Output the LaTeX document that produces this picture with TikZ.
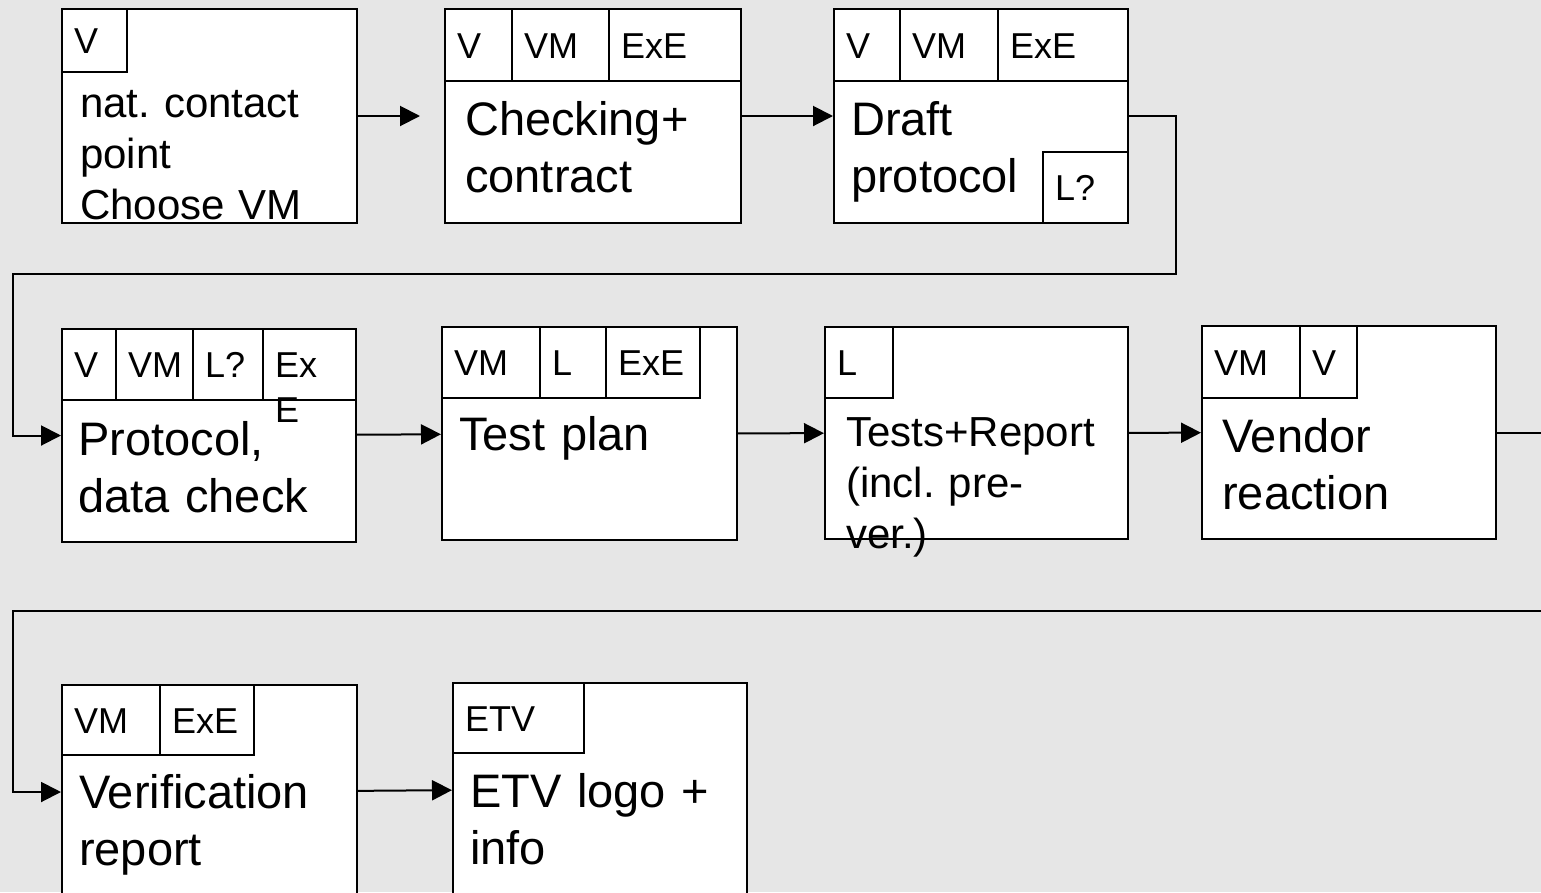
\documentclass[tikz,border=0pt]{standalone}
\usepackage{fontspec}
\setmainfont{Liberation Sans}
\usetikzlibrary{arrows.meta}

\definecolor{panelgray}{RGB}{230,230,230}

% text sizes (1 unit = 1pt)
\newcommand{\bigtext}{\fontsize{47}{57}\selectfont}
\newcommand{\midtext}{\fontsize{42}{51}\selectfont}
\newcommand{\roletext}{\fontsize{36}{45}\selectfont}
\frenchspacing

\tikzset{
    stage/.style 2 args={draw, fill=white, line width=2pt, anchor=north west,
        inner sep=0pt, minimum width=#1, minimum height=#2},
    role/.style={draw, fill=white, line width=2pt, anchor=north west,
        inner xsep=12pt, inner ysep=0pt, minimum height=71pt,
        minimum width=#1, text width=#1-24pt, text height=26pt, text depth=0pt,
        align=left, font=\roletext},
    note/.style={anchor=base west, inner sep=0pt, text width=300pt,
        align=left, font=\bigtext},
    flow/.style={->, line width=2pt},
}

\begin{document}
\begin{tikzpicture}[x=1pt, y=-1pt, >={Triangle[length=20pt,width=20pt]}]
    \useasboundingbox (0,0) rectangle (1541,892);
    \fill[panelgray] (0,0) rectangle (1541,892);
    \clip (0,0) rectangle (1541,892);

    % first row
    \node[stage={295pt}{214pt}] (contact) at (61,8) {};
    \node[role=65pt, minimum height=63pt] (contact-v) at (61,8) {V};
    \node[note, font=\midtext] (contact-t) at (80,117) {nat. contact\\point\\Choose VM};

    \node[stage={296pt}{214pt}] (checking) at (444,8) {};
    \node[role=67pt, minimum height=72pt] (checking-v) at (444,8) {V};
    \node[role=97pt, minimum height=72pt] (checking-vm) at (511,8) {VM};
    \node[role=132pt, minimum height=72pt] (checking-exe) at (608,8) {ExE};
    \node[note] (checking-t) at (465,135) {Checking+\\contract};

    \node[stage={294pt}{214pt}] (draft) at (833,8) {};
    \node[role=66pt, minimum height=72pt] (draft-v) at (833,8) {V};
    \node[role=98pt, minimum height=72pt] (draft-vm) at (899,8) {VM};
    \node[role=130pt, minimum height=72pt] (draft-exe) at (997,8) {ExE};
    \node[note] (draft-t) at (851,135) {Draft\\protocol};
    \node[role=85pt] (draft-l) at (1042,151) {L?};

    % second row
    \node[stage={294pt}{213pt}] (protocol) at (61,328) {};
    \node[role=54pt] (protocol-v) at (61,328) {V};
    \node[role=77pt, inner xsep=6pt] (protocol-vm) at (115,328) {VM};
    \node[role=70pt, inner xsep=6pt] (protocol-l) at (192,328) {L?};
    \node[role=93pt] (protocol-exe) at (262,328) {Ex\\E};
    \node[note] (protocol-t) at (78,455) {Protocol,\\data check};

    \node[stage={295pt}{213pt}] (testplan) at (441,326) {};
    \node[role=98pt] (testplan-vm) at (441,326) {VM};
    \node[role=66pt] (testplan-l) at (539,326) {L};
    \node[role=94pt] (testplan-exe) at (605,326) {ExE};
    \node[note] (testplan-t) at (459,450) {Test plan};

    \node[stage={303pt}{212pt}] (tests) at (824,326) {};
    \node[role=68pt] (tests-l) at (824,326) {L};
    \node[note, font=\midtext] (tests-t) at (846,446) {Tests+Report\\(incl. pre-\\ver.)};

    \node[stage={294pt}{213pt}] (vendor) at (1201,325) {};
    \node[role=98pt, minimum height=72pt] (vendor-vm) at (1201,325) {VM};
    \node[role=57pt, minimum height=72pt] (vendor-v) at (1299,325) {V};
    \node[note] (vendor-t) at (1222,452) {Vendor\\reaction};

    % third row
    \node[stage={295pt}{214pt}] (verif) at (61,684) {};
    \node[role=98pt, minimum height=70pt] (verif-vm) at (61,684) {VM};
    \node[role=94pt, minimum height=70pt] (verif-exe) at (159,684) {ExE};
    \node[note] (verif-t) at (79,808) {Verification\\report};

    \node[stage={294pt}{212pt}] (logo) at (452,682) {};
    \node[role=131pt, minimum height=70pt] (logo-etv) at (452,682) {ETV};
    \node[note] (logo-t) at (470,807) {ETV logo +\\info};

    % bends of the long connectors
    \coordinate (c1) at (1176,274);
    \coordinate (c2) at (13,274);
    \coordinate (c3) at (1560,611);
    \coordinate (c4) at (13,611);

    \draw[flow, shorten >=24pt] (contact) -- (checking);
    \draw[flow] (checking) -- (draft);
    \draw[flow] (draft.east) -| (c1) -- (c2) |- (protocol.west);
    \draw[flow] (protocol) -- (testplan);
    \draw[flow] (testplan) -- (tests);
    \draw[flow] (tests) -- (vendor);
    \draw[flow] (vendor.east) -| (c3) -- (c4) |- (verif.west);
    \draw[flow] (verif) -- (logo);
\end{tikzpicture}
\end{document}
